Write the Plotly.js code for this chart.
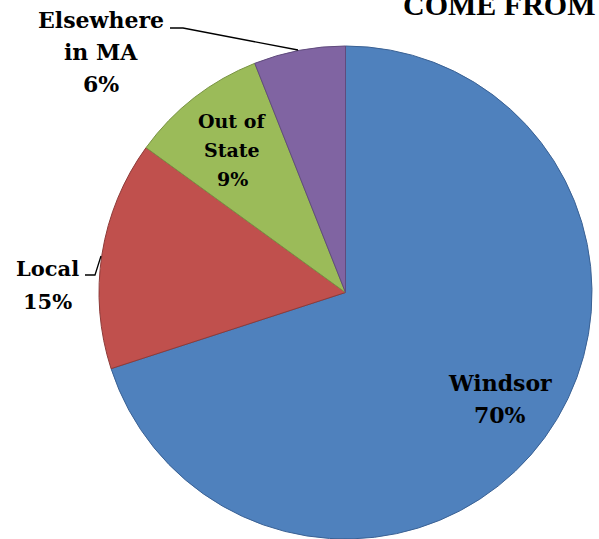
<!DOCTYPE html>
<html>
<head>
<meta charset="utf-8">
<script src="https://cdn.plot.ly/plotly-3.0.1.min.js"></script>
<style>html,body{margin:0;padding:0;background:#fff;}#chart{width:599px;height:539px;}</style>
</head>
<body>
<div id="chart"></div>
<script>
// Data
var categories = ["Windsor", "Local", "Out of State", "Elsewhere in MA"];
var values = [70, 15, 9, 6];
var labelLines = [["Windsor"], ["Local"], ["Out of", "State"], ["Elsewhere", "in MA"]];
var titleText = "COME FROM";

var colors = ["#4F81BD", "#C0504D", "#9BBB59", "#8064A2"];
var borders = ["#3A6194", "#8E3B39", "#7A9444", "#604B7D"];

var W = 599, H = 539;
function px(x) { return x / W; }
function py(y) { return 1 - y / H; }

var FONT = "DejaVu Serif";
// label block placement: center x, first-line y, line spacing, font size
var labelPos = [
  {x: 500, y: 383, dy: 31.5, size: 22},
  {x: 47, y: 268, dy: 33, size: 21},
  {x: 232, y: 121, dy: 29, size: 19},
  {x: 101, y: 20, dy: 32, size: 22}
];

var annotations = [];
categories.forEach(function (c, i) {
  var lines = labelLines[i].concat([values[i] + "%"]);
  lines.forEach(function (t, k) {
    annotations.push({
      xref: "paper", yref: "paper",
      x: px(labelPos[i].x), y: py(labelPos[i].y + k * labelPos[i].dy),
      xanchor: "center", yanchor: "middle",
      text: "<b>" + t + "</b>",
      showarrow: false, align: "center",
      font: {family: FONT, size: labelPos[i].size, color: "#000"}
    });
  });
});
annotations.push({
  xref: "paper", yref: "paper",
  x: px(597), y: py(23),
  xanchor: "right", yanchor: "bottom",
  text: "<b>" + titleText + "</b>",
  showarrow: false,
  font: {family: "Liberation Serif", size: 30, color: "#000"}
});

var shapes = [
  {type: "path", xref: "paper", yref: "paper",
   path: "M " + px(170) + "," + py(28) + " L " + px(183) + "," + py(28) + " L " + px(298) + "," + py(50),
   line: {color: "#000", width: 1.3}},
  {type: "path", xref: "paper", yref: "paper",
   path: "M " + px(85) + "," + py(275) + " L " + px(95) + "," + py(275) + " L " + px(101) + "," + py(256),
   line: {color: "#000", width: 1.3}}
];

var trace = {
  type: "pie",
  labels: categories,
  values: values,
  sort: false,
  direction: "clockwise",
  rotation: 0,
  textinfo: "none",
  hoverinfo: "label+percent",
  marker: {colors: colors, line: {color: borders, width: 1}},
  domain: {x: [99 / W, 592 / W], y: [0, 493 / H]},
  showlegend: false
};

var layout = {
  width: W, height: H,
  margin: {l: 0, r: 0, t: 0, b: 0},
  paper_bgcolor: "#fff",
  plot_bgcolor: "#fff",
  showlegend: false,
  annotations: annotations,
  shapes: shapes
};

Plotly.newPlot("chart", [trace], layout, {displayModeBar: false, staticPlot: true});
</script>
</body>
</html>
